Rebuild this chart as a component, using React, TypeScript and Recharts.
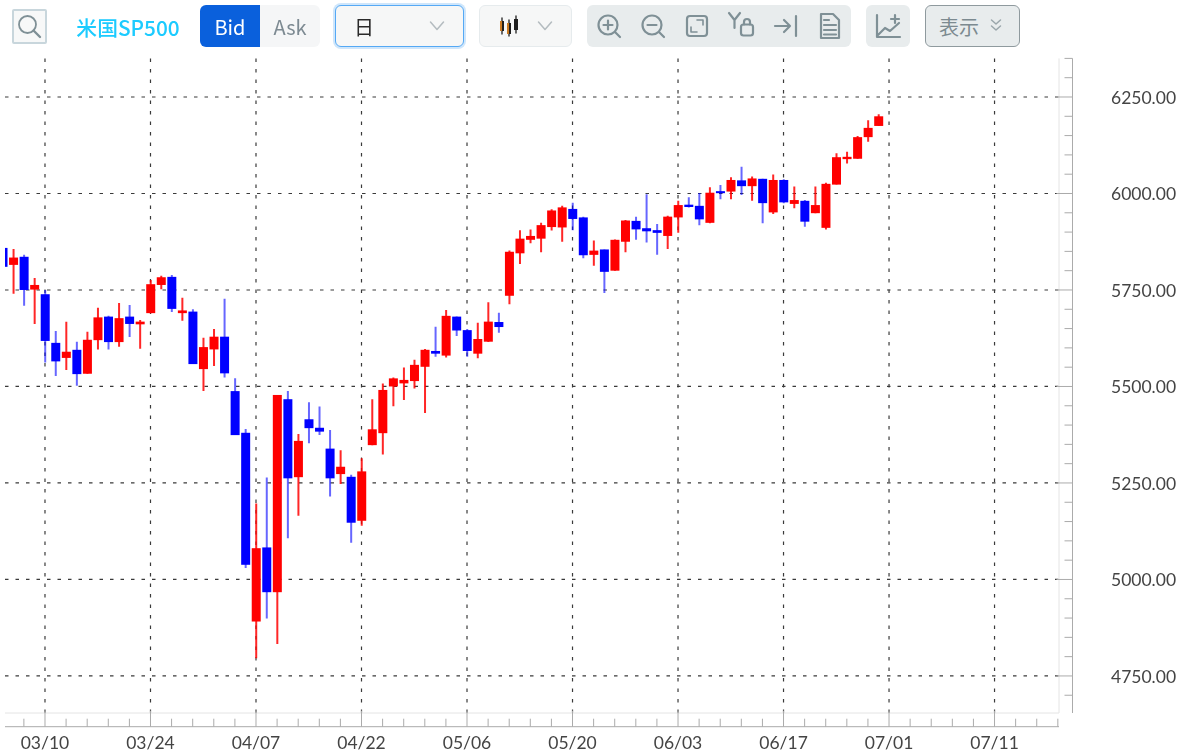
import React from "react";
import { ComposedChart, Bar, XAxis, YAxis, CartesianGrid } from "recharts";

const dates = ["03/04","03/05","03/06","03/07","03/10","03/11","03/12","03/13","03/14","03/17","03/18","03/19","03/20","03/21","03/24","03/25","03/26","03/27","03/28","03/31","04/01","04/02","04/03","04/04","04/07","04/08","04/09","04/10","04/11","04/14","04/15","04/16","04/17","04/21","04/22","04/23","04/24","04/25","04/28","04/29","04/30","05/01","05/02","05/05","05/06","05/07","05/08","05/09","05/12","05/13","05/14","05/15","05/16","05/19","05/20","05/21","05/22","05/23","05/26","05/27","05/28","05/29","05/30","06/02","06/03","06/04","06/05","06/06","06/09","06/10","06/11","06/12","06/13","06/16","06/17","06/18","06/19","06/20","06/23","06/24","06/25","06/26","06/27","06/30"];
const opens = [5859,5815,5836,5751,5739,5613,5574,5595,5533,5620,5681,5615,5681,5661,5690,5763,5784,5690,5694,5545,5596,5629,5488,5380,4891,5083,4967,5467,5265,5415,5393,5339,5273,5266,5152,5348,5379,5500,5508,5514,5551,5592,5580,5681,5646,5585,5616,5667,5735,5845,5880,5883,5913,5912,5960,5938,5841,5855,5800,5875,5929,5910,5905,5890,5938,5971,5968,5924,6006,6005,6034,6019,6038,5951,6035,5973,5981,5949,5911,6023,6089,6090,6146,6175];
const highs = [5859,5856,5841,5781,5750,5644,5668,5616,5642,5704,5683,5716,5711,5672,5776,5787,5789,5730,5700,5626,5649,5727,5521,5390,5197,5264,5478,5488,5377,5459,5448,5387,5335,5271,5314,5467,5508,5523,5549,5569,5597,5655,5698,5681,5649,5665,5718,5691,5852,5905,5907,5924,5959,5968,5976,5940,5878,5855,5881,5931,5940,5998,5921,5942,5981,5990,6001,6016,6022,6042,6069,6044,6038,6049,6037,6018,5983,6018,6028,6104,6108,6149,6190,6205];
const lows = [5810,5740,5709,5662,5562,5527,5543,5502,5533,5596,5596,5603,5628,5598,5690,5752,5693,5670,5558,5488,5553,5523,5374,5030,4796,4899,4833,5107,5165,5353,5374,5215,5247,5095,5139,5348,5324,5449,5465,5495,5431,5577,5575,5631,5577,5573,5615,5639,5713,5817,5871,5848,5904,5875,5905,5832,5813,5742,5800,5848,5880,5873,5841,5856,5898,5964,5918,5923,5985,5985,5996,5981,5923,5947,5975,5962,5914,5949,5907,6023,6078,6090,6134,6175];
const closes = [5810,5834,5750,5763,5618,5565,5590,5532,5621,5679,5615,5677,5662,5668,5765,5783,5701,5697,5558,5602,5629,5534,5374,5038,5081,4967,5478,5262,5359,5392,5383,5262,5292,5147,5280,5389,5491,5521,5517,5556,5595,5585,5683,5645,5592,5623,5668,5654,5849,5883,5890,5918,5956,5964,5934,5840,5852,5797,5880,5930,5907,5902,5898,5940,5970,5965,5933,6002,6001,6035,6019,6039,5975,6035,5977,5983,5927,5970,6025,6094,6095,6146,6170,6200];

const majorPrices = [4750,5000,5250,5500,5750,6000,6250];
const minorPrices = [4700,4800,4850,4900,4950,5050,5100,5150,5200,5300,5350,5400,5450,5550,5600,5650,5700,5800,5850,5900,5950,6050,6100,6150,6200,6300,6350];
const majorSlots = [4,14,24,34,44,54,64,74,84,94];
const tickDates = ["03/10","03/24","04/07","04/22","05/06","05/20","06/03","06/17","07/01","07/11"];
const minorSlots = [2,6,8,10,12,16,18,20,22,26,28,30,32,36,38,40,42,46,48,50,52,56,58,60,62,66,68,70,72,76,78,80,82,86,88,90,92,96,98,100];

const rows = dates.map((date, i) => ({ slot: i, date, open: opens[i], high: highs[i], low: lows[i], close: closes[i] }));
const allPrices = [...majorPrices, ...minorPrices].sort((a, b) => a - b);
const allSlots = [...majorSlots, ...minorSlots].sort((a, b) => a - b);
const xDomain: [number, number] = [0.21, 100.11];
const yDomain: [number, number] = [4654, 6350];
const RED = "#ff0000";
const BLUE = "#0000ff";
const ICON = "#7f9096";
const LABEL = "#444444";
const AXIS = "#ababab";
const FRAME = "#e4e4e4";
const UI_FONT = "'Noto Sans CJK JP','Noto Sans',sans-serif";

const Candle = (p: any) => {
  const { x, y, width, height, payload } = p;
  const { open, high, low, close } = payload;
  const unit = height / (high - low);
  const top = y + (high - Math.max(open, close)) * unit;
  const bottom = y + (high - Math.min(open, close)) * unit;
  const c = close >= open ? RED : BLUE;
  const cx = x + width / 2;
  return (
    <g>
      <line x1={cx} x2={cx} y1={y} y2={y + height} stroke={c} strokeWidth={2} strokeOpacity={close >= open ? 0.85 : 0.6} />
      <rect x={x} y={top} width={width} height={Math.max(bottom - top, 2)} fill={c} />
    </g>
  );
};

const PriceTick = (p: any) => {
  const { x, y, payload } = p;
  const major = majorPrices.includes(payload.value);
  return (
    <g>
      <line x1={x} x2={x - (major ? 16 : 8)} y1={y} y2={y} stroke={AXIS} strokeWidth={1} />
      {major && (
        <text x={1111} y={y + 7} fontFamily="Lato" fontSize={17.5} fill={LABEL}>
          {payload.value.toFixed(2)}
        </text>
      )}
    </g>
  );
};

const SlotTick = (p: any) => {
  const { x, y, payload } = p;
  const at = majorSlots.indexOf(payload.value);
  return (
    <g>
      <line x1={x} x2={x} y1={y} y2={y - (at >= 0 ? 16 : 8)} stroke={AXIS} strokeWidth={1} />
      {at >= 0 && (
        <text x={x} y={y + 22} textAnchor="middle" fontFamily="Lato" fontSize={17.5} fill={LABEL}>
          {tickDates[at]}
        </text>
      )}
    </g>
  );
};

const box = (left: number, width: number, extra: React.CSSProperties = {}): React.CSSProperties => ({
  position: "absolute",
  left,
  top: 5,
  width,
  height: 42,
  boxSizing: "border-box",
  display: "flex",
  alignItems: "center",
  justifyContent: "center",
  fontFamily: UI_FONT,
  fontSize: 20,
  ...extra,
});

const Icon = ({ left, top = 5, w = 44, h = 42, children }: any) => (
  <svg style={{ position: "absolute", left, top }} width={w} height={h} viewBox={`0 0 ${w} ${h}`} fill="none" stroke={ICON} strokeWidth={2.2} strokeLinecap="round" strokeLinejoin="round">
    {children}
  </svg>
);

const Chevron = ({ left }: { left: number }) => (
  <Icon left={left} w={18} h={42}>
    <path d="M2.5 17 L9 24.5 L15.5 17" stroke="#b4bcc0" strokeWidth={1.5} />
  </Icon>
);

const Toolbar = () => (
  <>
    <div style={{ position: "absolute", left: 12, top: 9, width: 35, height: 35, boxSizing: "border-box", border: "2px solid #c8d6dc", background: "#f7f8f8", borderRadius: 2 }} />
    <Icon left={12} top={9} w={35} h={35}>
      <circle cx="15.5" cy="15.5" r="8.5" strokeWidth={1.8} />
      <path d="M21.5 21.5 L28 28" strokeWidth={2.4} />
    </Icon>
    <div style={box(68, 120, { top: 8, height: 38, color: "#1ccbff", fontWeight: 500, fontSize: 20.8, whiteSpace: "nowrap" })}>米国SP500</div>
    <div style={box(200, 60, { background: "#0a60dc", color: "#fff", borderRadius: "6px 0 0 6px" })}>Bid</div>
    <div style={box(260, 60, { background: "#f5f6f7", color: "#7d8a92", borderRadius: "0 6px 6px 0" })}>Ask</div>
    <div style={box(335, 129, { background: "#f6f7f7", border: "1.5px solid #55a9f5", borderRadius: 6, boxShadow: "0 0 0 2px #cfe6fb", color: "#2a2a2a", justifyContent: "flex-start", paddingLeft: 18 })}>日</div>
    <Chevron left={428} />
    <div style={box(479, 93, { background: "#f6f7f7", border: "1.5px solid #e6ebed", borderRadius: 6 })} />
    <Icon left={497} w={26} h={42}>
      <g stroke="#1f1f1f" strokeWidth={1.3}>
        <path d="M5 13 V29 M12 15 V31 M19 11 V28" />
      </g>
      <rect x="3" y="16" width="2" height="10" fill="#c97a22" stroke="none" />
      <rect x="5" y="16" width="2" height="10" fill="#1f1f1f" stroke="none" />
      <rect x="10" y="18" width="2" height="11" fill="#c97a22" stroke="none" />
      <rect x="12" y="18" width="2" height="11" fill="#1f1f1f" stroke="none" />
      <rect x="17" y="14" width="4" height="11" fill="#1f1f1f" stroke="none" />
    </Icon>
    <Chevron left={536} />
    <div style={box(587, 264, { background: "#e8eced", borderRadius: 6 })} />
    <Icon left={587}>
      <circle cx="21" cy="20" r="9.5" /><path d="M28 27 L33 32 M21 15.5 V24.5 M16.5 20 H25.5" />
    </Icon>
    <Icon left={631}>
      <circle cx="21" cy="20" r="9.5" /><path d="M28 27 L33 32 M16.5 20 H25.5" />
    </Icon>
    <Icon left={675}>
      <rect x="12" y="11" width="20" height="20" rx="3" /><path d="M22 15 H28 V20 M22 27 H16 V22" strokeWidth={1.6} />
    </Icon>
    <Icon left={719}>
      <path d="M10 8 L15.5 15 L21 8 M15.5 15 V23" /><rect x="22" y="19.5" width="12" height="11" rx="2.5" /><path d="M25 19.5 V17 a3 3 0 0 1 6 0 V19.5" />
    </Icon>
    <Icon left={763}>
      <path d="M12 21 H27 M21 15 L27 21 L21 27 M33 11 V31" />
    </Icon>
    <Icon left={807}>
      <path d="M14 9 H26 L32 15 V33 H14 Z M17 20 H29 M17 25 H29 M17 29.5 H29 M17 15 H22" />
    </Icon>
    <div style={box(866, 44, { background: "#e8eced", borderRadius: 6 })} />
    <Icon left={866}>
      <path d="M11 10 V32 H34 M12 30 L19 23 L24 26 L33 18 M29 10 V18 M25 14 H33" />
    </Icon>
    <div style={box(925, 95, { background: "#e8eced", border: "1px solid #8f9a9e", borderRadius: 6, color: "#7c8a90", justifyContent: "flex-start", paddingLeft: 13 })}>表示</div>
    <Icon left={987} w={18} h={42}>
      <path d="M4.5 15 L9 19 L13.5 15 M4.5 21 L9 25 L13.5 21" stroke="#9aa6ab" strokeWidth={1.5} />
    </Icon>
  </>
);

export default function App() {
  return (
    <div style={{ position: "absolute", left: 0, top: 0, width: 1183, height: 752, overflow: "hidden", background: "#fff" }}>
      <div style={{ position: "absolute", left: 0, top: 0, filter: "blur(0.55px)" }}>
        <ComposedChart width={1183} height={752} data={rows} margin={{ top: 58.4, right: 0, bottom: 0, left: 5 }}>
          <CartesianGrid
            xAxisId="slots"
            yAxisId="price"
            stroke="#3a3a3a"
            strokeDasharray="3.5 7"
            strokeWidth={1.2}
            syncWithTicks={false}
            horizontalValues={majorPrices}
            verticalValues={majorSlots}
          />
          <XAxis xAxisId="frame" type="number" dataKey="slot" domain={xDomain} allowDataOverflow height={13.7} tick={false} tickLine={false} axisLine={{ stroke: FRAME }} />
          <XAxis xAxisId="slots" type="number" dataKey="slot" domain={xDomain} allowDataOverflow height={25.3} ticks={allSlots} interval={0} tickSize={0} tickMargin={0} tickLine={false} tick={<SlotTick />} axisLine={{ stroke: AXIS }} />
          <YAxis yAxisId="frame" orientation="right" type="number" domain={yDomain} allowDataOverflow width={13.5} tick={false} tickLine={false} axisLine={{ stroke: FRAME }} />
          <YAxis yAxisId="price" orientation="right" type="number" domain={yDomain} allowDataOverflow width={110.5} ticks={allPrices} interval={0} tickSize={0} tickMargin={0} tickLine={false} tick={<PriceTick />} axisLine={{ stroke: AXIS }} />
          <Bar xAxisId="slots" yAxisId="price" dataKey={(d: any) => [d.low, d.high]} barSize={9} shape={<Candle />} isAnimationActive={false} />
        </ComposedChart>
      </div>
      <div style={{ position: "absolute", left: 0, top: 0, width: 1183, height: 52, filter: "blur(0.3px)" }}>
        <Toolbar />
      </div>
    </div>
  );
}
